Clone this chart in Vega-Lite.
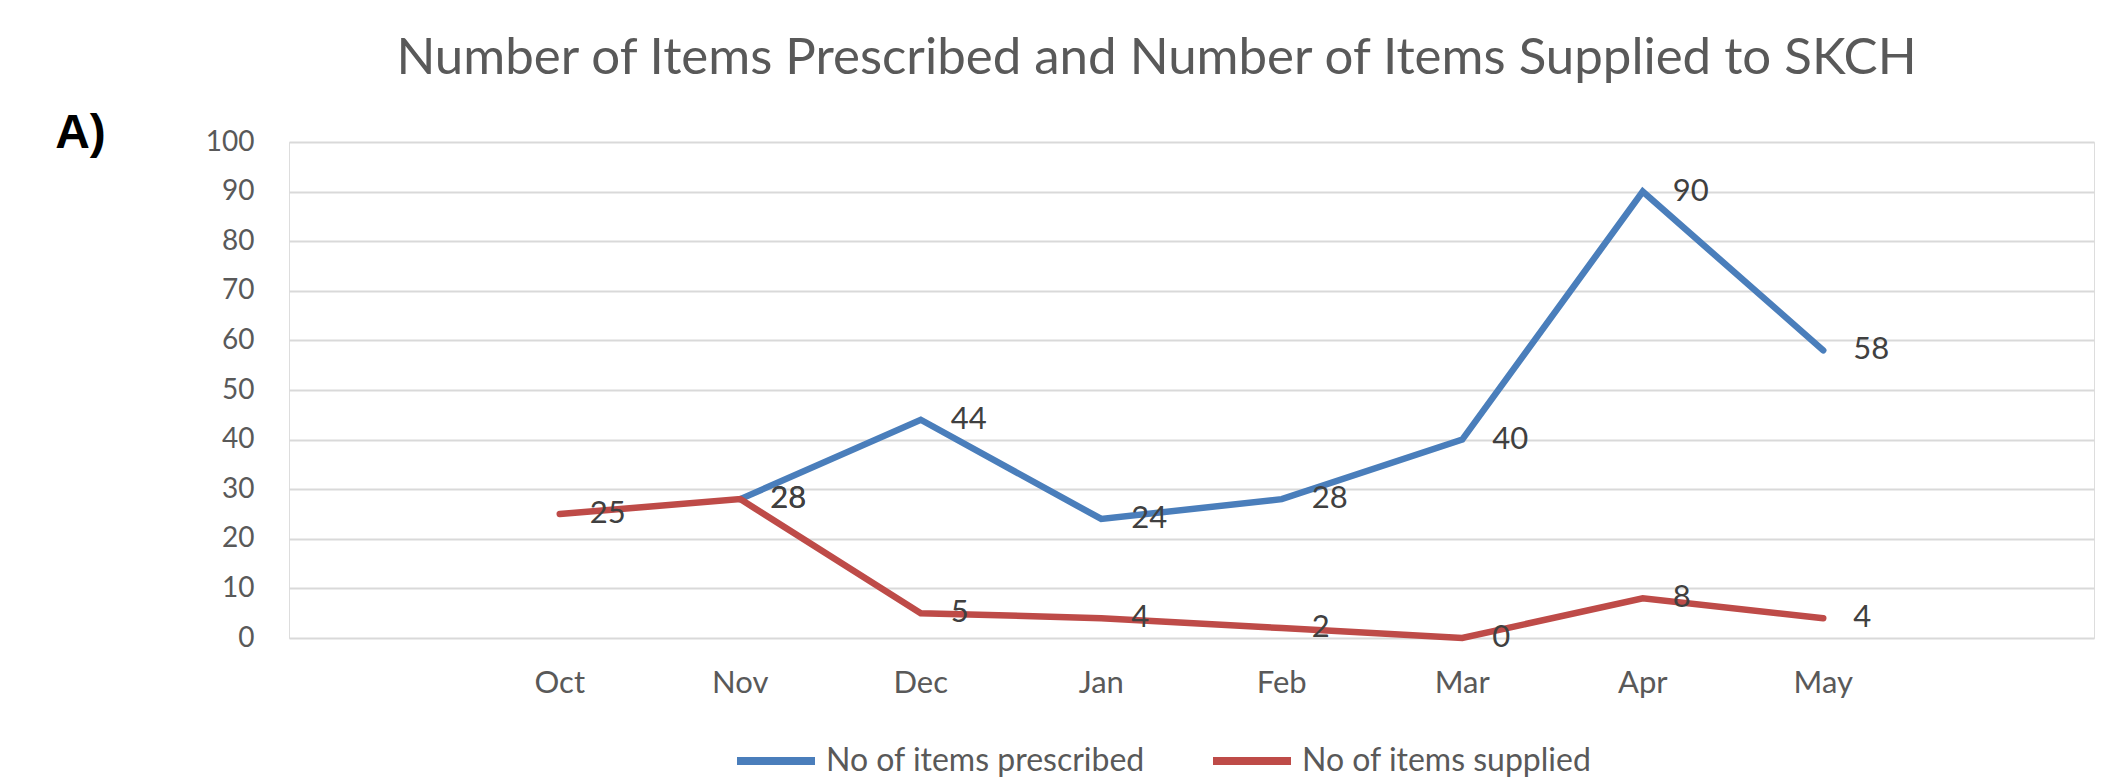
{
  "$schema": "https://vega.github.io/schema/vega-lite/v6.json",
  "width": 1805,
  "height": 496,
  "autosize": {"type": "none"},
  "padding": {"left": 289, "top": 142, "right": 26, "bottom": 144},
  "background": "white",
  "title": {
    "text": "Number of Items Prescribed and Number of Items Supplied to SKCH",
    "font": "Lato",
    "fontSize": 51,
    "fontWeight": "normal",
    "color": "#595959",
    "anchor": "middle",
    "offset": 24,
    "dx": -35
  },
  "data": {
    "values": [
      {"month": "Nov", "series": "No of items prescribed", "value": 28},
      {"month": "Dec", "series": "No of items prescribed", "value": 44},
      {"month": "Jan", "series": "No of items prescribed", "value": 24},
      {"month": "Feb", "series": "No of items prescribed", "value": 28},
      {"month": "Mar", "series": "No of items prescribed", "value": 40},
      {"month": "Apr", "series": "No of items prescribed", "value": 90},
      {"month": "May", "series": "No of items prescribed", "value": 58},
      {"month": "Oct", "series": "No of items supplied", "value": 25},
      {"month": "Nov", "series": "No of items supplied", "value": 28},
      {"month": "Dec", "series": "No of items supplied", "value": 5},
      {"month": "Jan", "series": "No of items supplied", "value": 4},
      {"month": "Feb", "series": "No of items supplied", "value": 2},
      {"month": "Mar", "series": "No of items supplied", "value": 0},
      {"month": "Apr", "series": "No of items supplied", "value": 8},
      {"month": "May", "series": "No of items supplied", "value": 4}
    ]
  },
  "encoding": {
    "x": {
      "field": "month",
      "type": "ordinal",
      "sort": ["Oct", "Nov", "Dec", "Jan", "Feb", "Mar", "Apr", "May"],
      "scale": {"type": "band", "paddingInner": 0, "paddingOuter": 1},
      "axis": {
        "title": null,
        "labelAngle": 0,
        "ticks": false,
        "domain": false,
        "grid": false,
        "labelFont": "Lato",
        "labelFontSize": 31,
        "labelColor": "#595959",
        "labelPadding": 30
      }
    },
    "y": {
      "field": "value",
      "type": "quantitative",
      "scale": {"domain": [0, 100], "nice": false},
      "axis": {
        "values": [0, 10, 20, 30, 40, 50, 60, 70, 80, 90, 100],
        "grid": true,
        "gridColor": "#d9d9d9",
        "gridWidth": 2,
        "domain": false,
        "ticks": false,
        "labelFont": "Lato",
        "labelFontSize": 28,
        "labelColor": "#595959",
        "labelPadding": 35,
        "title": "A)",
        "titleAngle": 0,
        "titleX": -209,
        "titleY": -9,
        "titleAlign": "center",
        "titleBaseline": "middle",
        "titleFont": "Liberation Sans",
        "titleFontSize": 48,
        "titleFontWeight": "bold",
        "titleColor": "#000000"
      }
    }
  },
  "layer": [
    {
      "mark": {"type": "line", "strokeWidth": 6.5, "strokeCap": "round", "strokeJoin": "miter"},
      "encoding": {
        "color": {
          "field": "series",
          "type": "nominal",
          "scale": {
            "domain": ["No of items prescribed", "No of items supplied"],
            "range": ["#4a7ebb", "#be4b48"]
          },
          "legend": {
            "title": null,
            "orient": "none",
            "direction": "horizontal",
            "legendX": 444,
            "legendY": 576,
            "symbolType": "stroke",
            "symbolSize": 6084,
            "symbolStrokeWidth": 8,
            "labelFont": "Lato",
            "labelFontSize": 32,
            "labelColor": "#595959",
            "labelOffset": 7,
            "labelLimit": 0,
            "columnPadding": 52
          }
        }
      }
    },
    {
      "mark": {
        "type": "text",
        "align": "left",
        "baseline": "middle",
        "dx": 30,
        "font": "Lato",
        "fontSize": 31,
        "color": "#404040"
      },
      "encoding": {"text": {"field": "value", "type": "quantitative"}}
    }
  ]
}
